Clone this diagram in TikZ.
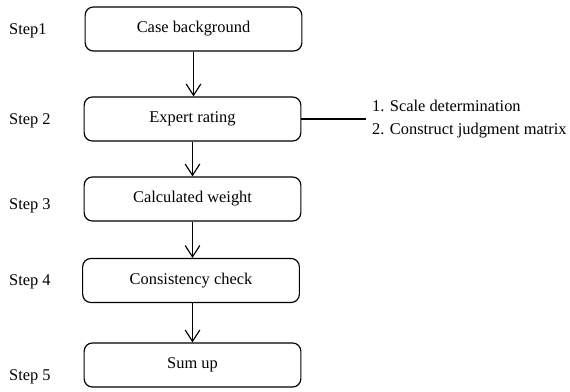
\documentclass[tikz,border=0pt]{standalone}
\usepackage{fontspec}
\setmainfont{Liberation Serif}
\usetikzlibrary{arrows.meta}

\begin{document}
\begin{tikzpicture}[x=0.03cm,y=-0.03cm]

	\tikzstyle step box=[draw, line width=1pt, rounded corners=7pt, minimum width=6.5cm, minimum height=1.32cm, font=\fontsize{14}{16}\selectfont];
	\tikzstyle step label=[anchor=west, font=\fontsize{14}{16}\selectfont];
	\tikzstyle flow arrow=[line width=1pt, -{Straight Barb[length=3.4mm,width=4.4mm,line width=1pt]}];
	\tikzstyle note=[anchor=west, font=\fontsize{14}{16}\selectfont];

	\useasboundingbox (0,0) rectangle (570,391);

	% boxes
	\node[step box] (case) at (193.5,29) {Case background};
	\node[step box] (expert) at (192.5,119) {Expert rating};
	\node[step box] (weight) at (192.5,199) {Calculated weight};
	\node[step box] (check) at (191,280.5) {Consistency check};
	\node[step box] (sum) at (192.5,365) {Sum up};

	% step labels
	\foreach \y/\name/\txt in {31/s1/Step1,121/s2/Step 2,206/s3/Step 3,282/s4/Step 4,377/s5/Step 5}
		\node[step label] (\name) at (5,\y) {\txt};

	% arrows
	\draw[flow arrow] (case.south) -- (case.south |- expert.north);
	\draw[flow arrow] (expert.south) -- (expert.south |- weight.north);
	\draw[flow arrow] (expert.south |- weight.south) -- (expert.south |- check.north);
	\draw[flow arrow] (expert.south |- check.south) -- (expert.south |- sum.north);

	% sub steps of the rating
	\draw[line width=1pt] (expert.east) -- ++(65,0) coordinate (split);
	\node[note] (scale) at (368,106) {1. Scale determination};
	\node[note] (matrix) at (368,131) {2. Construct judgment matrix};

\end{tikzpicture}
\end{document}
